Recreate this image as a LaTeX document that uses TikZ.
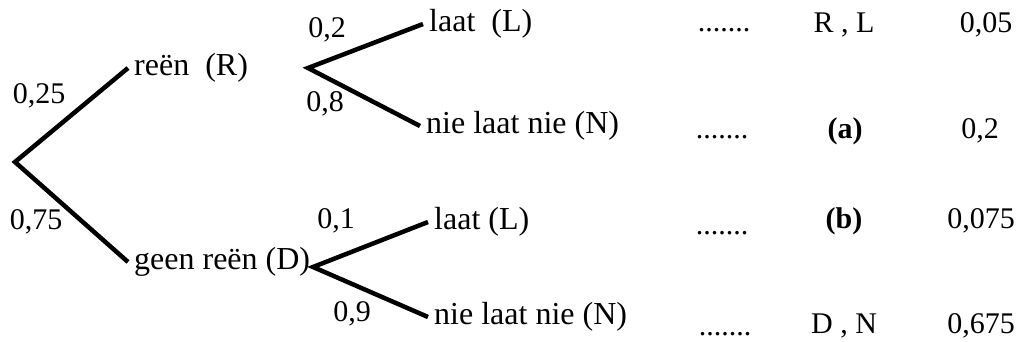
\documentclass[tikz,border=0pt]{standalone}
\usepackage{fontspec}
\setmainfont{Liberation Serif}
\usetikzlibrary{positioning}
\tikzset{
  branch/.style={line width=4.5pt, line join=miter},
  leaf/.style={inner sep=2pt, font=\fontsize{32}{38}\selectfont},
  prob/.style={inner sep=0pt, font=\fontsize{30}{36}\selectfont},
}
\begin{document}
\begin{tikzpicture}[x=1pt,y=-1pt]
  \useasboundingbox (0,0) rectangle (1024,342);
  % branch points and ends
  \coordinate (O) at (15,162);
  \coordinate (eR) at (128,68);
  \coordinate (eD) at (128,262);
  \coordinate (fR) at (308,68);
  \coordinate (fD) at (313,267);
  \coordinate (eRL) at (423,24);
  \coordinate (eRN) at (420,126);
  \coordinate (eDL) at (428,222);
  \coordinate (eDN) at (428,317);
  \draw[branch] (eR) -- (O) -- (eD);
  \draw[branch] (eRL) -- (fR) -- (eRN);
  \draw[branch] (eDL) -- (fD) -- (eDN);
  % outcomes
  \node[leaf, right=4pt of eR] (R) {reën\ \ (R)};
  \node[leaf, right=4pt of eD] (D) {geen reën (D)};
  \node[leaf, right=4pt of eRL] (RL) {laat\ \ (L)};
  \node[leaf, right=4pt of eRN] (RN) {nie laat nie (N)};
  \node[leaf, right=4pt of eDL] (DL) {laat (L)};
  \node[leaf, right=4pt of eDN] (DN) {nie laat nie (N)};
  % probabilities
  \node[prob] (pR) at (39,96) {0,25};
  \node[prob] (pD) at (36,222) {0,75};
  \node[prob] (pRL) at (327,30) {0,2};
  \node[prob] (pRN) at (325,104) {0,8};
  \node[prob] (pDL) at (336,221) {0,1};
  \node[prob] (pDN) at (352,314) {0,9};
  % table
  \node[prob, anchor=base] (d1) at (724,32) {.......};
  \node[prob, anchor=base] (d2) at (722,139) {.......};
  \node[prob, anchor=base] (d3) at (722,234) {.......};
  \node[prob, anchor=base] (d4) at (725,335) {.......};
  \node[prob, anchor=base] (c1) at (844,33) {R , L};
  \node[prob, anchor=base] (c2) at (845,138) {\textbf{(a)}};
  \node[prob, anchor=base] (c3) at (844,228) {\textbf{(b)}};
  \node[prob, anchor=base] (c4) at (844,333) {D , N};
  \node[prob, anchor=base] (v1) at (986,33) {0,05};
  \node[prob, anchor=base] (v2) at (980,138) {0,2};
  \node[prob, anchor=base] (v3) at (981,228) {0,075};
  \node[prob, anchor=base] (v4) at (981,333) {0,675};
\end{tikzpicture}
\end{document}
